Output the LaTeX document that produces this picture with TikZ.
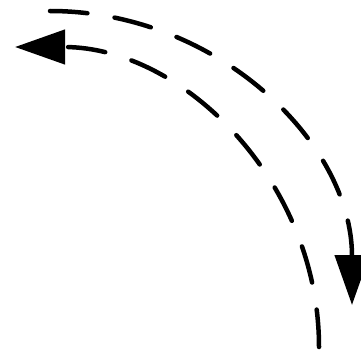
\documentclass[tikz,border=0pt]{standalone}
\usepackage{tikz}
\usetikzlibrary{arrows.meta,calc}

\tikzset{
  dasharc/.style={line width=0.09cm, line cap=round,
    dash pattern=on 0.75cm off 0.55cm,
    -{Triangle[length=1cm, width=0.68cm]}}
}

\begin{document}
\begin{tikzpicture}
  \useasboundingbox (0,0) rectangle (7.22,6.98);

  % Centres of the two arcs
  \coordinate (outerc) at (1.0, 0.88);
  \coordinate (innerc) at (0.30, 0.04);

  % Outer arc, clockwise, arrow pointing down
  \draw[dasharc] ($(outerc)+(0,5.88)$) coordinate (outerstart)
    arc[start angle=90, end angle=0, x radius=6.04, y radius=5.88];

  % Inner arc, counter-clockwise, arrow pointing left
  \draw[dasharc] ($(innerc)+(6.08,0)$) coordinate (innerstart)
    arc[start angle=0, end angle=90, x radius=6.08, y radius=6.0];
\end{tikzpicture}
\end{document}
